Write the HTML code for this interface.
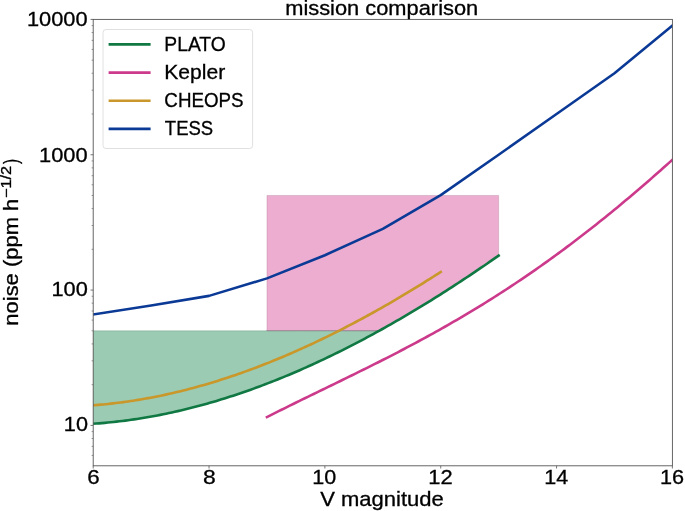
<!DOCTYPE html>
<html><head><meta charset="utf-8"><style>
html,body{margin:0;padding:0;background:#fff;overflow:hidden;}
svg{display:block;will-change:transform;}
.t{font-family:"Liberation Sans",sans-serif;font-size:19.8px;fill:#000;stroke:#000;stroke-width:0.3px;}
.ln{fill:none;stroke-width:2.6;stroke-linejoin:round;stroke-linecap:square;}
.tk{stroke:#555;stroke-width:0.8;}
.mtk{stroke:#555;stroke-width:0.6;}
</style></head><body>
<svg width="685" height="511" viewBox="0 0 685 511">
<defs><clipPath id="ax"><rect x="93.2" y="19.4" width="579.20" height="446.40"/></clipPath></defs>
<rect width="685" height="511" fill="#fff"/>
<g clip-path="url(#ax)">
<path d="M93.20,423.75 L96.82,423.50 L100.44,423.22 L104.06,422.92 L107.68,422.58 L111.30,422.23 L114.92,421.84 L118.54,421.43 L122.16,421.00 L125.78,420.53 L129.40,420.05 L133.02,419.53 L136.64,419.00 L140.26,418.43 L143.88,417.84 L147.51,417.23 L151.13,416.59 L154.75,415.93 L158.37,415.24 L161.99,414.53 L165.61,413.79 L169.23,413.03 L172.85,412.24 L176.47,411.43 L180.09,410.60 L183.71,409.74 L187.33,408.86 L190.95,407.95 L194.57,407.02 L198.19,406.07 L201.81,405.09 L205.43,404.09 L209.05,403.07 L212.67,402.02 L216.29,400.96 L219.91,399.86 L223.53,398.75 L227.15,397.61 L230.77,396.45 L234.39,395.27 L238.01,394.06 L241.63,392.84 L245.25,391.59 L248.88,390.32 L252.50,389.02 L256.12,387.71 L259.74,386.37 L263.36,385.01 L266.98,383.63 L270.60,382.23 L274.22,380.81 L277.84,379.36 L281.46,377.90 L285.08,376.41 L288.70,374.91 L292.32,373.38 L295.94,371.83 L299.56,370.26 L303.18,368.67 L306.80,367.06 L310.42,365.43 L314.04,363.79 L317.66,362.12 L321.28,360.43 L324.90,358.72 L328.52,356.99 L332.14,355.24 L335.76,353.47 L339.38,351.69 L343.00,349.88 L346.62,348.05 L350.25,346.21 L353.87,344.35 L357.49,342.46 L361.11,340.56 L364.73,338.64 L368.35,336.71 L371.97,334.75 L375.59,332.78 L379.21,330.78 L379.21,330.81 L93.20,330.81 Z" fill="#9bcbb3" stroke="rgba(60,110,90,0.25)" stroke-width="1.0"/>
<path d="M266.96,330.81 L268.42,330.81 L269.87,330.81 L271.33,330.81 L272.79,330.81 L274.25,330.81 L275.70,330.81 L277.16,330.81 L278.62,330.81 L280.07,330.81 L281.53,330.81 L282.99,330.81 L284.45,330.81 L285.90,330.81 L287.36,330.81 L288.82,330.81 L290.27,330.81 L291.73,330.81 L293.19,330.81 L294.65,330.81 L296.10,330.81 L297.56,330.81 L299.02,330.81 L300.47,330.81 L301.93,330.81 L303.39,330.81 L304.84,330.81 L306.30,330.81 L307.76,330.81 L309.22,330.81 L310.67,330.81 L312.13,330.81 L313.59,330.81 L315.04,330.81 L316.50,330.81 L317.96,330.81 L319.42,330.81 L320.87,330.81 L322.33,330.81 L323.79,330.81 L325.24,330.81 L326.70,330.81 L328.16,330.81 L329.62,330.81 L331.07,330.81 L332.53,330.81 L333.99,330.81 L335.44,330.81 L336.90,330.81 L338.36,330.81 L339.82,330.81 L341.27,330.81 L342.73,330.81 L344.19,330.81 L345.64,330.81 L347.10,330.81 L348.56,330.81 L350.02,330.81 L351.47,330.81 L352.93,330.81 L354.39,330.81 L355.84,330.81 L357.30,330.81 L358.76,330.81 L360.21,330.81 L361.67,330.81 L363.13,330.81 L364.59,330.81 L366.04,330.81 L367.50,330.81 L368.96,330.81 L370.41,330.81 L371.87,330.81 L373.33,330.81 L374.79,330.81 L376.24,330.81 L377.70,330.81 L379.16,330.81 L380.61,330.00 L382.07,329.20 L383.53,328.38 L384.99,327.57 L386.44,326.75 L387.90,325.93 L389.36,325.10 L390.81,324.28 L392.27,323.45 L393.73,322.61 L395.19,321.78 L396.64,320.94 L398.10,320.10 L399.56,319.25 L401.01,318.41 L402.47,317.56 L403.93,316.70 L405.39,315.85 L406.84,314.99 L408.30,314.13 L409.76,313.26 L411.21,312.40 L412.67,311.53 L414.13,310.66 L415.58,309.78 L417.04,308.90 L418.50,308.02 L419.96,307.14 L421.41,306.26 L422.87,305.37 L424.33,304.48 L425.78,303.58 L427.24,302.68 L428.70,301.79 L430.16,300.88 L431.61,299.98 L433.07,299.07 L434.53,298.16 L435.98,297.25 L437.44,296.33 L438.90,295.42 L440.36,294.50 L441.81,293.57 L443.27,292.65 L444.73,291.72 L446.18,290.79 L447.64,289.85 L449.10,288.92 L450.56,287.98 L452.01,287.04 L453.47,286.09 L454.93,285.15 L456.38,284.20 L457.84,283.25 L459.30,282.29 L460.76,281.34 L462.21,280.38 L463.67,279.42 L465.13,278.45 L466.58,277.48 L468.04,276.52 L469.50,275.54 L470.95,274.57 L472.41,273.59 L473.87,272.61 L475.33,271.63 L476.78,270.65 L478.24,269.66 L479.70,268.67 L481.15,267.68 L482.61,266.69 L484.07,265.69 L485.53,264.69 L486.98,263.69 L488.44,262.69 L489.90,261.68 L491.35,260.68 L492.81,259.67 L494.27,258.65 L495.73,257.64 L497.18,256.62 L498.64,255.60 L498.64,195.48 L266.96,195.48 Z" fill="#ecadd0" stroke="rgba(150,90,120,0.25)" stroke-width="1.0"/>
<line x1="266.46" y1="330.51" x2="379.21" y2="330.51" stroke="rgba(150,130,145,0.7)" stroke-width="1"/>
<path d="M93.20,423.75 L96.12,423.55 L99.03,423.33 L101.95,423.10 L104.87,422.84 L107.78,422.57 L110.70,422.29 L113.62,421.98 L116.53,421.66 L119.45,421.32 L122.37,420.97 L125.29,420.60 L128.20,420.21 L131.12,419.81 L134.04,419.39 L136.95,418.95 L139.87,418.50 L142.79,418.03 L145.70,417.54 L148.62,417.04 L151.54,416.52 L154.45,415.98 L157.37,415.43 L160.29,414.87 L163.20,414.28 L166.12,413.69 L169.04,413.07 L171.95,412.44 L174.87,411.79 L177.79,411.13 L180.71,410.46 L183.62,409.76 L186.54,409.05 L189.46,408.33 L192.37,407.59 L195.29,406.84 L198.21,406.07 L201.12,405.28 L204.04,404.48 L206.96,403.67 L209.87,402.84 L212.79,401.99 L215.71,401.13 L218.62,400.25 L221.54,399.36 L224.46,398.46 L227.37,397.54 L230.29,396.61 L233.21,395.66 L236.12,394.69 L239.04,393.72 L241.96,392.72 L244.88,391.72 L247.79,390.70 L250.71,389.66 L253.63,388.61 L256.54,387.55 L259.46,386.47 L262.38,385.38 L265.29,384.28 L268.21,383.16 L271.13,382.02 L274.04,380.88 L276.96,379.72 L279.88,378.54 L282.79,377.35 L285.71,376.15 L288.63,374.94 L291.54,373.71 L294.46,372.47 L297.38,371.21 L300.30,369.94 L303.21,368.66 L306.13,367.36 L309.05,366.06 L311.96,364.73 L314.88,363.40 L317.80,362.05 L320.71,360.69 L323.63,359.32 L326.55,357.93 L329.46,356.54 L332.38,355.12 L335.30,353.70 L338.21,352.27 L341.13,350.82 L344.05,349.36 L346.96,347.88 L349.88,346.40 L352.80,344.90 L355.72,343.39 L358.63,341.86 L361.55,340.33 L364.47,338.78 L367.38,337.22 L370.30,335.65 L373.22,334.07 L376.13,332.48 L379.05,330.87 L381.97,329.25 L384.88,327.62 L387.80,325.98 L390.72,324.33 L393.63,322.67 L396.55,320.99 L399.47,319.30 L402.38,317.61 L405.30,315.90 L408.22,314.18 L411.13,312.44 L414.05,310.70 L416.97,308.95 L419.89,307.18 L422.80,305.41 L425.72,303.62 L428.64,301.82 L431.55,300.02 L434.47,298.20 L437.39,296.37 L440.30,294.53 L443.22,292.68 L446.14,290.82 L449.05,288.95 L451.97,287.06 L454.89,285.17 L457.80,283.27 L460.72,281.36 L463.64,279.44 L466.55,277.50 L469.47,275.56 L472.39,273.61 L475.31,271.65 L478.22,269.67 L481.14,267.69 L484.06,265.70 L486.97,263.70 L489.89,261.69 L492.81,259.67 L495.72,257.64 L498.64,255.60" stroke="#107843" class="ln"/><path d="M266.96,417.11 L269.88,415.63 L272.79,414.15 L275.71,412.68 L278.63,411.21 L281.54,409.76 L284.46,408.30 L287.38,406.85 L290.29,405.41 L293.21,403.97 L296.13,402.53 L299.05,401.10 L301.96,399.67 L304.88,398.25 L307.80,396.82 L310.71,395.40 L313.63,393.98 L316.55,392.56 L319.46,391.14 L322.38,389.72 L325.30,388.31 L328.21,386.89 L331.13,385.47 L334.05,384.05 L336.96,382.63 L339.88,381.21 L342.80,379.79 L345.71,378.36 L348.63,376.94 L351.55,375.51 L354.47,374.07 L357.38,372.64 L360.30,371.20 L363.22,369.75 L366.13,368.31 L369.05,366.85 L371.97,365.40 L374.88,363.94 L377.80,362.47 L380.72,361.00 L383.63,359.52 L386.55,358.04 L389.47,356.55 L392.38,355.05 L395.30,353.55 L398.22,352.04 L401.13,350.52 L404.05,348.99 L406.97,347.46 L409.88,345.92 L412.80,344.37 L415.72,342.82 L418.64,341.25 L421.55,339.68 L424.47,338.10 L427.39,336.50 L430.30,334.90 L433.22,333.29 L436.14,331.67 L439.05,330.04 L441.97,328.40 L444.89,326.75 L447.80,325.09 L450.72,323.42 L453.64,321.74 L456.55,320.05 L459.47,318.35 L462.39,316.63 L465.30,314.91 L468.22,313.17 L471.14,311.42 L474.06,309.66 L476.97,307.89 L479.89,306.11 L482.81,304.31 L485.72,302.50 L488.64,300.68 L491.56,298.85 L494.47,297.01 L497.39,295.15 L500.31,293.28 L503.22,291.40 L506.14,289.50 L509.06,287.59 L511.97,285.67 L514.89,283.74 L517.81,281.79 L520.72,279.83 L523.64,277.86 L526.56,275.87 L529.48,273.87 L532.39,271.86 L535.31,269.83 L538.23,267.79 L541.14,265.74 L544.06,263.67 L546.98,261.59 L549.89,259.50 L552.81,257.39 L555.73,255.27 L558.64,253.14 L561.56,250.99 L564.48,248.83 L567.39,246.65 L570.31,244.47 L573.23,242.26 L576.14,240.05 L579.06,237.82 L581.98,235.58 L584.89,233.32 L587.81,231.05 L590.73,228.77 L593.65,226.48 L596.56,224.17 L599.48,221.84 L602.40,219.51 L605.31,217.16 L608.23,214.80 L611.15,212.43 L614.06,210.04 L616.98,207.64 L619.90,205.23 L622.81,202.80 L625.73,200.37 L628.65,197.92 L631.56,195.45 L634.48,192.98 L637.40,190.49 L640.31,187.99 L643.23,185.48 L646.15,182.96 L649.07,180.43 L651.98,177.88 L654.90,175.33 L657.82,172.76 L660.73,170.18 L663.65,167.59 L666.57,164.99 L669.48,162.38 L672.40,159.76" stroke="#cc3a8c" class="ln"/><path d="M93.20,405.27 L95.70,405.08 L98.20,404.87 L100.70,404.66 L103.20,404.43 L105.70,404.18 L108.20,403.93 L110.70,403.66 L113.20,403.38 L115.70,403.08 L118.20,402.78 L120.70,402.46 L123.20,402.13 L125.70,401.78 L128.20,401.43 L130.70,401.06 L133.20,400.68 L135.70,400.28 L138.20,399.88 L140.70,399.46 L143.20,399.03 L145.70,398.59 L148.20,398.13 L150.70,397.67 L153.20,397.19 L155.70,396.70 L158.20,396.20 L160.70,395.68 L163.20,395.16 L165.70,394.62 L168.20,394.07 L170.70,393.51 L173.20,392.93 L175.70,392.35 L178.20,391.75 L180.71,391.14 L183.21,390.52 L185.71,389.89 L188.21,389.25 L190.71,388.59 L193.21,387.93 L195.71,387.25 L198.21,386.56 L200.71,385.86 L203.21,385.15 L205.71,384.43 L208.21,383.70 L210.71,382.95 L213.21,382.20 L215.71,381.43 L218.21,380.65 L220.71,379.86 L223.21,379.06 L225.71,378.25 L228.21,377.43 L230.71,376.60 L233.21,375.76 L235.71,374.90 L238.21,374.04 L240.71,373.16 L243.21,372.28 L245.71,371.38 L248.21,370.47 L250.71,369.56 L253.21,368.63 L255.71,367.69 L258.21,366.74 L260.71,365.78 L263.21,364.81 L265.71,363.83 L268.21,362.84 L270.71,361.84 L273.21,360.83 L275.71,359.81 L278.21,358.78 L280.71,357.74 L283.21,356.69 L285.71,355.63 L288.21,354.55 L290.71,353.47 L293.21,352.38 L295.71,351.28 L298.21,350.17 L300.71,349.05 L303.21,347.92 L305.71,346.78 L308.21,345.63 L310.71,344.47 L313.21,343.31 L315.71,342.13 L318.21,340.94 L320.71,339.74 L323.21,338.54 L325.71,337.32 L328.21,336.10 L330.71,334.86 L333.21,333.62 L335.71,332.37 L338.21,331.11 L340.71,329.84 L343.21,328.56 L345.71,327.27 L348.21,325.97 L350.71,324.66 L353.21,323.35 L355.72,322.02 L358.22,320.69 L360.72,319.35 L363.22,317.99 L365.72,316.63 L368.22,315.26 L370.72,313.89 L373.22,312.50 L375.72,311.11 L378.22,309.70 L380.72,308.29 L383.22,306.87 L385.72,305.44 L388.22,304.01 L390.72,302.56 L393.22,301.11 L395.72,299.64 L398.22,298.17 L400.72,296.70 L403.22,295.21 L405.72,293.71 L408.22,292.21 L410.72,290.70 L413.22,289.18 L415.72,287.66 L418.22,286.12 L420.72,284.58 L423.22,283.03 L425.72,281.47 L428.22,279.90 L430.72,278.33 L433.22,276.75 L435.72,275.16 L438.22,273.56 L440.72,271.96" stroke="#c9972a" class="ln"/><path d="M93.20,314.49 L151.12,305.43 L209.04,295.87 L266.96,278.38 L324.88,255.20 L382.80,228.93 L440.72,195.13 L498.64,154.74 L556.56,114.00 L614.48,73.26 L672.40,25.60" stroke="#0b3a96" class="ln"/>
</g>
<rect x="93.2" y="19.4" width="579.20" height="446.40" fill="none" stroke="#555" stroke-width="0.9"/>
<line x1="93.20" y1="465.8" x2="93.20" y2="468.5" class="tk"/><line x1="209.04" y1="465.8" x2="209.04" y2="468.5" class="tk"/><line x1="324.88" y1="465.8" x2="324.88" y2="468.5" class="tk"/><line x1="440.72" y1="465.8" x2="440.72" y2="468.5" class="tk"/><line x1="556.56" y1="465.8" x2="556.56" y2="468.5" class="tk"/><line x1="672.40" y1="465.8" x2="672.40" y2="468.5" class="tk"/><line x1="90.5" y1="425.40" x2="93.2" y2="425.40" class="tk"/><line x1="90.5" y1="290.07" x2="93.2" y2="290.07" class="tk"/><line x1="90.5" y1="154.74" x2="93.2" y2="154.74" class="tk"/><line x1="90.5" y1="19.41" x2="93.2" y2="19.41" class="tk"/><line x1="91.60000000000001" y1="455.42" x2="93.2" y2="455.42" class="mtk"/><line x1="91.60000000000001" y1="446.36" x2="93.2" y2="446.36" class="mtk"/><line x1="91.60000000000001" y1="438.51" x2="93.2" y2="438.51" class="mtk"/><line x1="91.60000000000001" y1="431.59" x2="93.2" y2="431.59" class="mtk"/><line x1="91.60000000000001" y1="384.66" x2="93.2" y2="384.66" class="mtk"/><line x1="91.60000000000001" y1="360.83" x2="93.2" y2="360.83" class="mtk"/><line x1="91.60000000000001" y1="343.92" x2="93.2" y2="343.92" class="mtk"/><line x1="91.60000000000001" y1="330.81" x2="93.2" y2="330.81" class="mtk"/><line x1="91.60000000000001" y1="320.09" x2="93.2" y2="320.09" class="mtk"/><line x1="91.60000000000001" y1="311.03" x2="93.2" y2="311.03" class="mtk"/><line x1="91.60000000000001" y1="303.18" x2="93.2" y2="303.18" class="mtk"/><line x1="91.60000000000001" y1="296.26" x2="93.2" y2="296.26" class="mtk"/><line x1="91.60000000000001" y1="249.33" x2="93.2" y2="249.33" class="mtk"/><line x1="91.60000000000001" y1="225.50" x2="93.2" y2="225.50" class="mtk"/><line x1="91.60000000000001" y1="208.59" x2="93.2" y2="208.59" class="mtk"/><line x1="91.60000000000001" y1="195.48" x2="93.2" y2="195.48" class="mtk"/><line x1="91.60000000000001" y1="184.76" x2="93.2" y2="184.76" class="mtk"/><line x1="91.60000000000001" y1="175.70" x2="93.2" y2="175.70" class="mtk"/><line x1="91.60000000000001" y1="167.85" x2="93.2" y2="167.85" class="mtk"/><line x1="91.60000000000001" y1="160.93" x2="93.2" y2="160.93" class="mtk"/><line x1="91.60000000000001" y1="114.00" x2="93.2" y2="114.00" class="mtk"/><line x1="91.60000000000001" y1="90.17" x2="93.2" y2="90.17" class="mtk"/><line x1="91.60000000000001" y1="73.26" x2="93.2" y2="73.26" class="mtk"/><line x1="91.60000000000001" y1="60.15" x2="93.2" y2="60.15" class="mtk"/><line x1="91.60000000000001" y1="49.43" x2="93.2" y2="49.43" class="mtk"/><line x1="91.60000000000001" y1="40.37" x2="93.2" y2="40.37" class="mtk"/><line x1="91.60000000000001" y1="32.52" x2="93.2" y2="32.52" class="mtk"/><line x1="91.60000000000001" y1="25.60" x2="93.2" y2="25.60" class="mtk"/>
<rect x="103.0" y="29.5" width="149.60" height="119.00" rx="3" ry="3" fill="#fff" fill-opacity="0.8" stroke="#e0e0e0" stroke-width="1"/><line x1="108.6" y1="44.4" x2="150.6" y2="44.4" stroke="#107843" stroke-width="2.6" stroke-linecap="butt"/><line x1="108.6" y1="72.6" x2="150.6" y2="72.6" stroke="#cc3a8c" stroke-width="2.6" stroke-linecap="butt"/><line x1="108.6" y1="100.8" x2="150.6" y2="100.8" stroke="#c9972a" stroke-width="2.6" stroke-linecap="butt"/><line x1="108.6" y1="128.9" x2="150.6" y2="128.9" stroke="#0b3a96" stroke-width="2.6" stroke-linecap="butt"/>
<text transform="translate(285.18,15.21) scale(1.1036,1)" class="t">mission comparison</text><text transform="translate(26.95,26.45) scale(1.1014,1)" class="t">10000</text><text transform="translate(39.04,161.65) scale(1.1042,1)" class="t">1000</text><text transform="translate(51.45,296.20) scale(1.0992,1)" class="t">100</text><text transform="translate(63.86,431.40) scale(1.0937,1)" class="t">10</text><text transform="translate(87.27,483.85) scale(1.1288,1)" class="t">6</text><text transform="translate(202.89,483.85) scale(1.1568,1)" class="t">8</text><text transform="translate(312.27,483.85) scale(1.0886,1)" class="t">10</text><text transform="translate(428.24,483.98) scale(1.1077,1)" class="t">12</text><text transform="translate(544.17,483.91) scale(1.0868,1)" class="t">14</text><text transform="translate(660.06,483.85) scale(1.0955,1)" class="t">16</text><text transform="translate(320.16,506.06) scale(1.1124,1)" class="t">V magnitude</text><text transform="translate(164.32,50.85) scale(0.9736,1)" class="t">PLATO</text><text transform="translate(164.17,79.41) scale(1.0661,1)" class="t">Kepler</text><text transform="translate(164.35,107.30) scale(0.9480,1)" class="t">CHEOPS</text><text transform="translate(164.83,135.30) scale(0.9353,1)" class="t">TESS</text>
<g transform="translate(18.1,324.5) rotate(-90)"><text transform="translate(-1.13,0) scale(1.109,1)" class="t">noise (ppm h</text><text transform="translate(126.5,-7.2) scale(1.18,1)" class="t" style="font-size:13.8px">−1/2</text><text transform="translate(160.6,0) scale(0.78,1)" class="t">)</text></g>
</svg>
</body></html>
